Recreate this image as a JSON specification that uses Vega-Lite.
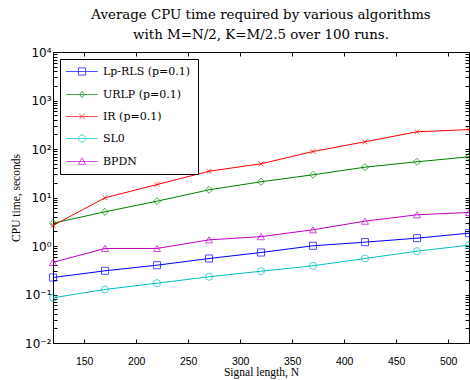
{
  "$schema": "https://vega.github.io/schema/vega-lite/v6.json",
  "width": 416,
  "height": 291,
  "autosize": {"type": "none"},
  "padding": {"left": 53, "top": 52, "right": 1, "bottom": 37},
  "background": "white",
  "title": {
    "text": ["Average CPU time required by various algorithms", "with M=N/2, K=M/2.5 over 100 runs."],
    "font": "DejaVu Serif",
    "fontSize": 13.4,
    "fontWeight": "normal",
    "color": "#000",
    "anchor": "middle",
    "frame": "group",
    "offset": 5,
    "lineHeight": 20
  },
  "config": {
    "view": {"stroke": "#000", "strokeWidth": 1},
    "axis": {
      "grid": false,
      "domainColor": "#000",
      "tickColor": "#000",
      "labelColor": "#000",
      "titleColor": "#000",
      "labelFont": "Liberation Sans",
      "labelFontSize": 10.5,
      "titleFont": "Liberation Serif",
      "titleFontSize": 11.5,
      "titleFontWeight": "normal",
      "tickSize": -4,
      "labelOverlap": false
    }
  },
  "data": {
    "values": [
      {"alg": "Lp-RLS (p=0.1)", "N": 120, "t": 0.224},
      {"alg": "Lp-RLS (p=0.1)", "N": 170, "t": 0.308},
      {"alg": "Lp-RLS (p=0.1)", "N": 220, "t": 0.402},
      {"alg": "Lp-RLS (p=0.1)", "N": 270, "t": 0.552},
      {"alg": "Lp-RLS (p=0.1)", "N": 320, "t": 0.734},
      {"alg": "Lp-RLS (p=0.1)", "N": 370, "t": 1.01},
      {"alg": "Lp-RLS (p=0.1)", "N": 420, "t": 1.2},
      {"alg": "Lp-RLS (p=0.1)", "N": 470, "t": 1.45},
      {"alg": "Lp-RLS (p=0.1)", "N": 520, "t": 1.84},
      {"alg": "URLP (p=0.1)", "N": 120, "t": 2.95},
      {"alg": "URLP (p=0.1)", "N": 170, "t": 5.07},
      {"alg": "URLP (p=0.1)", "N": 220, "t": 8.39},
      {"alg": "URLP (p=0.1)", "N": 270, "t": 14.4},
      {"alg": "URLP (p=0.1)", "N": 320, "t": 21.1},
      {"alg": "URLP (p=0.1)", "N": 370, "t": 29.4},
      {"alg": "URLP (p=0.1)", "N": 420, "t": 42.2},
      {"alg": "URLP (p=0.1)", "N": 470, "t": 54.5},
      {"alg": "URLP (p=0.1)", "N": 520, "t": 69},
      {"alg": "IR (p=0.1)", "N": 120, "t": 2.65},
      {"alg": "IR (p=0.1)", "N": 170, "t": 9.86},
      {"alg": "IR (p=0.1)", "N": 220, "t": 18.5},
      {"alg": "IR (p=0.1)", "N": 270, "t": 34.8},
      {"alg": "IR (p=0.1)", "N": 320, "t": 49.5},
      {"alg": "IR (p=0.1)", "N": 370, "t": 88.8},
      {"alg": "IR (p=0.1)", "N": 420, "t": 141},
      {"alg": "IR (p=0.1)", "N": 470, "t": 226},
      {"alg": "IR (p=0.1)", "N": 520, "t": 252},
      {"alg": "SL0", "N": 120, "t": 0.0855},
      {"alg": "SL0", "N": 170, "t": 0.127},
      {"alg": "SL0", "N": 220, "t": 0.171},
      {"alg": "SL0", "N": 270, "t": 0.232},
      {"alg": "SL0", "N": 320, "t": 0.302},
      {"alg": "SL0", "N": 370, "t": 0.391},
      {"alg": "SL0", "N": 420, "t": 0.552},
      {"alg": "SL0", "N": 470, "t": 0.782},
      {"alg": "SL0", "N": 520, "t": 1.04},
      {"alg": "BPDN", "N": 120, "t": 0.46},
      {"alg": "BPDN", "N": 170, "t": 0.89},
      {"alg": "BPDN", "N": 220, "t": 0.89},
      {"alg": "BPDN", "N": 270, "t": 1.34},
      {"alg": "BPDN", "N": 320, "t": 1.56},
      {"alg": "BPDN", "N": 370, "t": 2.16},
      {"alg": "BPDN", "N": 420, "t": 3.25},
      {"alg": "BPDN", "N": 470, "t": 4.4},
      {"alg": "BPDN", "N": 520, "t": 4.91}
    ]
  },
  "layer": [
    {
      "mark": {"type": "line", "strokeWidth": 1},
      "encoding": {
        "x": {
          "field": "N", "type": "quantitative",
          "scale": {"domain": [120, 520], "nice": false, "zero": false},
          "axis": {
            "orient": "bottom",
            "values": [150, 200, 250, 300, 350, 400, 450, 500],
            "title": "Signal length, N",
            "labelPadding": 17,
            "titlePadding": 0
          }
        },
        "y": {
          "field": "t", "type": "quantitative",
          "scale": {"type": "log", "domain": [0.01, 10000], "nice": false},
          "axis": {
            "orient": "left",
            "title": "CPU time, seconds",
            "values": [0.01, 0.02, 0.03, 0.04, 0.05, 0.06, 0.07, 0.08, 0.09, 0.1, 0.2, 0.3, 0.4, 0.5, 0.6, 0.7, 0.8, 0.9, 1, 2, 3, 4, 5, 6, 7, 8, 9, 10, 20, 30, 40, 50, 60, 70, 80, 90, 100, 200, 300, 400, 500, 600, 700, 800, 900, 1000, 2000, 3000, 4000, 5000, 6000, 7000, 8000, 9000, 10000],
            "labelExpr": "datum.value == 10000 ? '10⁴' : datum.value == 1000 ? '10³' : datum.value == 100 ? '10²' : datum.value == 10 ? '10¹' : datum.value == 1 ? '10⁰' : datum.value == 0.1 ? '10⁻¹' : datum.value == 0.01 ? '10⁻²' : ''",
            "labelFont": "DejaVu Sans",
            "labelFontSize": 12,
            "labelPadding": 6,
            "titlePadding": 3
          }
        },
        "stroke": {
          "field": "alg", "type": "nominal",
          "scale": {
            "domain": ["Lp-RLS (p=0.1)", "URLP (p=0.1)", "IR (p=0.1)", "SL0", "BPDN"],
            "range": ["#0000ff", "#008000", "#ff0000", "#00bfbf", "#bf00bf"]
          },
          "legend": null
        }
      }
    },
    {
      "mark": {"type": "point", "filled": false, "size": 50, "strokeWidth": 1},
      "encoding": {
        "x": {
          "field": "N", "type": "quantitative",
          "axis": {"orient": "top", "values": [150, 200, 250, 300, 350, 400, 450, 500], "labels": false, "title": null, "domain": false}
        },
        "y": {
          "field": "t", "type": "quantitative",
          "axis": {
            "orient": "right", "labels": false, "title": null, "domain": false,
            "values": [0.01, 0.02, 0.03, 0.04, 0.05, 0.06, 0.07, 0.08, 0.09, 0.1, 0.2, 0.3, 0.4, 0.5, 0.6, 0.7, 0.8, 0.9, 1, 2, 3, 4, 5, 6, 7, 8, 9, 10, 20, 30, 40, 50, 60, 70, 80, 90, 100, 200, 300, 400, 500, 600, 700, 800, 900, 1000, 2000, 3000, 4000, 5000, 6000, 7000, 8000, 9000, 10000]
          }
        },
        "color": {
          "field": "alg", "type": "nominal",
          "scale": {
            "domain": ["Lp-RLS (p=0.1)", "URLP (p=0.1)", "IR (p=0.1)", "SL0", "BPDN"],
            "range": ["#0000ff", "#008000", "#ff0000", "#00bfbf", "#bf00bf"]
          },
          "legend": null
        },
        "shape": {
          "field": "alg", "type": "nominal",
          "scale": {
            "domain": ["Lp-RLS (p=0.1)", "URLP (p=0.1)", "IR (p=0.1)", "SL0", "BPDN"],
            "range": ["square", "diamond", "M-0.7,-0.7L0.7,0.7M-0.7,0.7L0.7,-0.7", "circle", "triangle-up"]
          },
          "legend": null
        }
      }
    },
    {
      "transform": [{"filter": "false"}],
      "mark": {"type": "point", "filled": false, "strokeWidth": 1},
      "encoding": {
        "color": {
          "field": "alg", "type": "nominal",
          "scale": {
            "domain": ["Lp-RLS (p=0.1)", "URLP (p=0.1)", "IR (p=0.1)", "SL0", "BPDN"],
            "range": ["#0000ff", "#008000", "#ff0000", "#00bfbf", "#bf00bf"]
          },
          "legend": {
            "orient": "top-left",
            "offset": 7,
            "title": null,
            "padding": 7,
            "rowPadding": 10,
            "symbolSize": 64,
            "symbolStrokeWidth": 1,
            "labelOffset": 25,
            "labelFont": "DejaVu Serif",
            "labelFontSize": 11,
            "labelColor": "#000",
            "fillColor": "white",
            "strokeColor": "#000"
          }
        },
        "shape": {
          "field": "alg", "type": "nominal",
          "scale": {
            "domain": ["Lp-RLS (p=0.1)", "URLP (p=0.1)", "IR (p=0.1)", "SL0", "BPDN"],
            "range": [
              "M-1.625,0L6.3,0M1.475,-0.9L3.275,-0.9L3.275,0.9L1.475,0.9Z",
              "M-1.625,0L6.3,0M2.375,-0.8L2.975,0L2.375,0.8L1.775,0Z",
              "M-1.625,0L6.3,0M1.675,-0.7L3.075,0.7M1.675,0.7L3.075,-0.7",
              "M-1.625,0L6.3,0M3.275,0L3.154,0.45L2.825,0.779L2.375,0.9L1.925,0.779L1.596,0.45L1.475,0L1.596,-0.45L1.925,-0.779L2.375,-0.9L2.825,-0.779L3.154,-0.45Z",
              "M-1.625,0L6.3,0M2.375,-0.9L3.275,0.7L1.475,0.7Z"
            ]
          },
          "legend": {
            "orient": "top-left",
            "offset": 7,
            "title": null,
            "padding": 7,
            "rowPadding": 10,
            "symbolSize": 64,
            "symbolStrokeWidth": 1,
            "labelOffset": 25,
            "labelFont": "DejaVu Serif",
            "labelFontSize": 11,
            "labelColor": "#000",
            "fillColor": "white",
            "strokeColor": "#000"
          }
        }
      }
    }
  ],
  "resolve": {
    "axis": {"x": "independent", "y": "independent"},
    "scale": {"color": "independent", "shape": "independent"}
  }
}
